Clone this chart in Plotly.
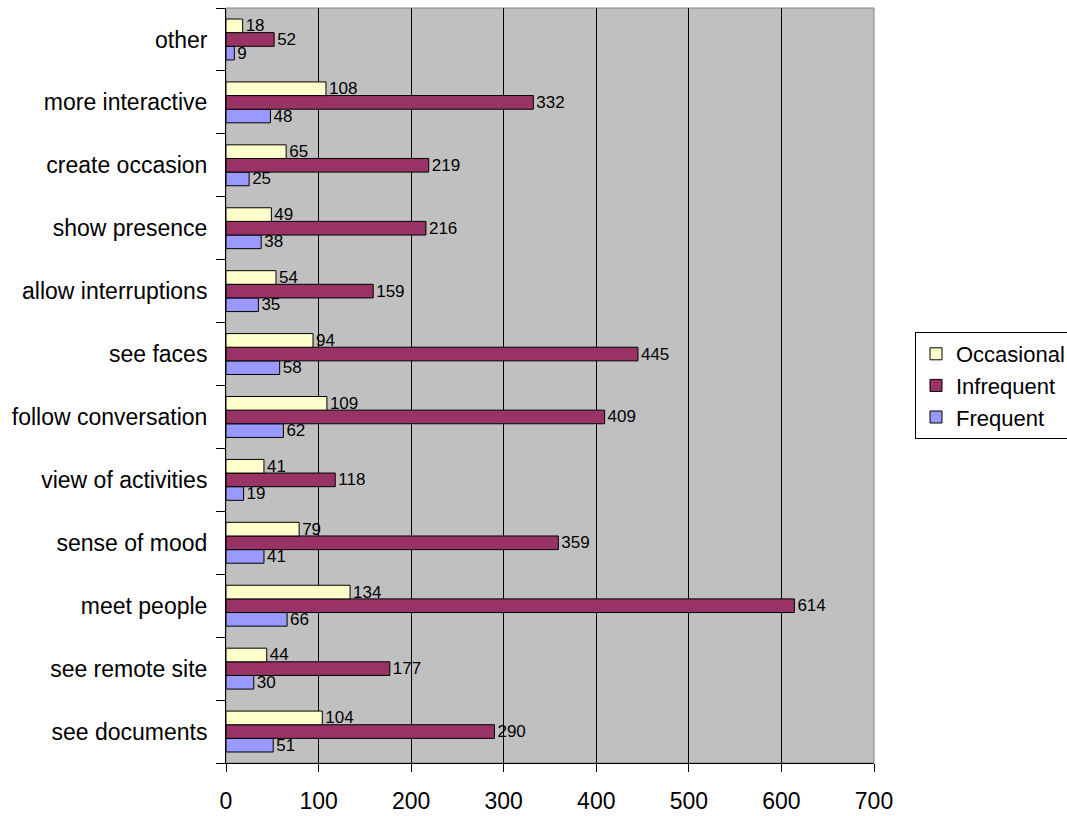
import plotly.graph_objects as go

categories = ["see documents", "see remote site", "meet people", "sense of mood",
              "view of activities", "follow conversation", "see faces",
              "allow interruptions", "show presence", "create occasion",
              "more interactive", "other"]
frequent = [51, 30, 66, 41, 19, 62, 58, 35, 38, 25, 48, 9]
infrequent = [290, 177, 614, 359, 118, 409, 445, 159, 216, 219, 332, 52]
occasional = [104, 44, 134, 79, 41, 109, 94, 54, 49, 65, 108, 18]
x_ticks = [0, 100, 200, 300, 400, 500, 600, 700]

FONT = "Arial, Liberation Sans, sans-serif"

fig = go.Figure()
for name, vals, color in [("Frequent", frequent, "#9999FF"),
                          ("Infrequent", infrequent, "#993366"),
                          ("Occasional", occasional, "#FFFFCC")]:
    fig.add_trace(go.Bar(
        y=categories, x=vals, name=name, orientation="h",
        marker=dict(color=color, line=dict(color="black", width=1)),
        text=[str(v) for v in vals], textposition="outside",
        textfont=dict(family=FONT, size=17, color="black"),
        constraintext="none",
        cliponaxis=False,
    ))

fig.update_layout(
    width=1067, height=816,
    margin=dict(l=226, r=193, t=8, b=53, autoexpand=False),
    barmode="group", bargap=0.35, bargroupgap=0,
    plot_bgcolor="#C0C0C0", paper_bgcolor="white",
    font=dict(family=FONT, size=23, color="black"),
    legend=dict(xref="container", yref="container",
                x=915 / 1067, y=1 - 439 / 816, xanchor="left", yanchor="bottom",
                traceorder="reversed", bordercolor="black", borderwidth=1,
                bgcolor="white", font=dict(size=22),
                itemwidth=30, tracegroupgap=0),
)
fig.update_xaxes(range=[0, 700], tickvals=x_ticks, showgrid=True,
                 gridcolor="black", gridwidth=1, showline=True, linecolor="black",
                 ticks="outside", ticklen=8, tickcolor="black", zeroline=False,
                 tickfont=dict(size=23), ticklabelstandoff=9)
fig.update_yaxes(type="category", categoryorder="array", categoryarray=categories,
                 showline=True, linecolor="black", ticks="outside", ticklen=9,
                 tickcolor="black", tickson="boundaries", showgrid=False,
                 tickfont=dict(size=23), ticklabelstandoff=13)
fig.add_shape(type="rect", xref="paper", yref="paper", x0=0, x1=1, y0=0, y1=1,
              line=dict(color="#808080", width=1), layer="below")

fig.write_html("out.html")
